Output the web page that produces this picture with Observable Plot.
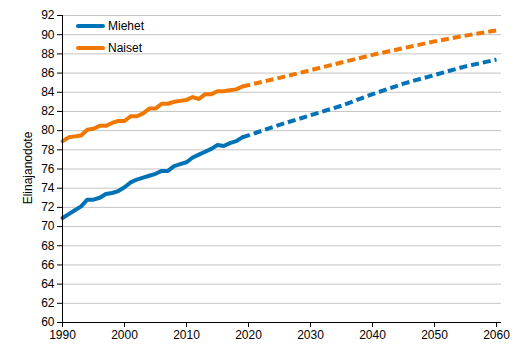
<!DOCTYPE html>
<html><head><meta charset="utf-8">
<script src="https://cdn.jsdelivr.net/npm/d3@7"></script>
<script src="https://cdn.jsdelivr.net/npm/@observablehq/plot@0.6"></script>
<style>
body{margin:0;background:#fff;font-family:"Liberation Sans",Arial,sans-serif;}
#wrap{position:relative;width:522px;height:347px;}
#wrap svg{display:block;}
.legend{position:absolute;left:76px;top:15px;font-size:12px;color:#000;line-height:22px;}
.legend div{display:flex;align-items:center;height:22px;}
.legend svg{margin-right:3px;}
.ylabel{position:absolute;left:28px;top:168px;font-size:12px;color:#000;white-space:nowrap;transform:translate(-50%,-50%) rotate(-90deg);}
</style></head><body>
<div id="wrap"></div>
<script>
const seriesNames = ["Miehet", "Naiset"];
const seriesColors = ["#0072b6", "#f07800"];
const yTitle = "Elinajanodote";
const histYears = [1990,1991,1992,1993,1994,1995,1996,1997,1998,1999,2000,2001,2002,2003,2004,2005,2006,2007,2008,2009,2010,2011,2012,2013,2014,2015,2016,2017,2018,2019];
const menHist   = [70.9,71.3,71.7,72.1,72.8,72.8,73.0,73.4,73.5,73.7,74.1,74.6,74.9,75.1,75.3,75.5,75.8,75.8,76.3,76.5,76.7,77.2,77.5,77.8,78.1,78.5,78.4,78.7,78.9,79.3];
const womenHist = [78.9,79.3,79.4,79.5,80.1,80.2,80.5,80.5,80.8,81.0,81.0,81.5,81.5,81.8,82.3,82.3,82.8,82.8,83.0,83.1,83.2,83.5,83.3,83.8,83.8,84.1,84.1,84.2,84.3,84.6];
const projYears = [2019,2025,2030,2035,2040,2045,2050,2055,2060];
const menProj   = [79.3,80.6,81.6,82.6,83.8,84.9,85.8,86.7,87.4];
const womenProj = [84.6,85.5,86.3,87.1,87.9,88.6,89.3,89.9,90.45];
const xTicks = [1990,2000,2010,2020,2030,2040,2050,2060];
const yTicks = [60,62,64,66,68,70,72,74,76,78,80,82,84,86,88,90,92];

const hist = [];
histYears.forEach((y,i)=>{hist.push({year:y,value:menHist[i],series:"Miehet"});hist.push({year:y,value:womenHist[i],series:"Naiset"});});
const proj = [];
projYears.forEach((y,i)=>{proj.push({year:y,value:menProj[i],series:"Miehet"});proj.push({year:y,value:womenProj[i],series:"Naiset"});});

const chart = Plot.plot({
  width:522, height:347,
  marginLeft:62, marginRight:21, marginTop:15, marginBottom:25,
  style:{fontFamily:"'Liberation Sans', Arial, sans-serif", fontSize:"12px", color:"#000", background:"#fff", overflow:"visible"},
  x:{domain:[1990,2060.8], ticks:xTicks, tickFormat:d=>String(d), tickSize:5, tickPadding:3, label:null},
  y:{domain:[60,92], ticks:yTicks, tickSize:5, tickPadding:3, label:null},
  color:{domain:seriesNames, range:seriesColors},
  marks:[
    Plot.ruleY(yTicks.filter(d=>d>60), {stroke:"#c4c4c4", strokeWidth:1}),
    Plot.line(hist, {x:"year", y:"value", z:"series", stroke:"series", strokeWidth:4, strokeLinejoin:"round", strokeLinecap:"round"}),
    Plot.line(proj, {x:"year", y:"value", z:"series", stroke:"series", strokeWidth:4, strokeDasharray:"8,4", strokeLinecap:"butt"}),
    Plot.ruleX([1990], {stroke:"#000"}),
    Plot.ruleY([60], {stroke:"#000"})
  ]
});
const wrap = document.getElementById("wrap");
wrap.appendChild(chart);
const yl = document.createElement("div");
yl.className = "ylabel";
yl.textContent = yTitle;
wrap.appendChild(yl);
const lg = document.createElement("div");
lg.className = "legend";
seriesNames.forEach((n,i)=>{
  const row = document.createElement("div");
  row.innerHTML = `<svg width="29" height="6"><line x1="2" y1="3" x2="27" y2="3" stroke="${seriesColors[i]}" stroke-width="4" stroke-linecap="round"/></svg><span>${n}</span>`;
  lg.appendChild(row);
});
wrap.appendChild(lg);
</script>
</body></html>
